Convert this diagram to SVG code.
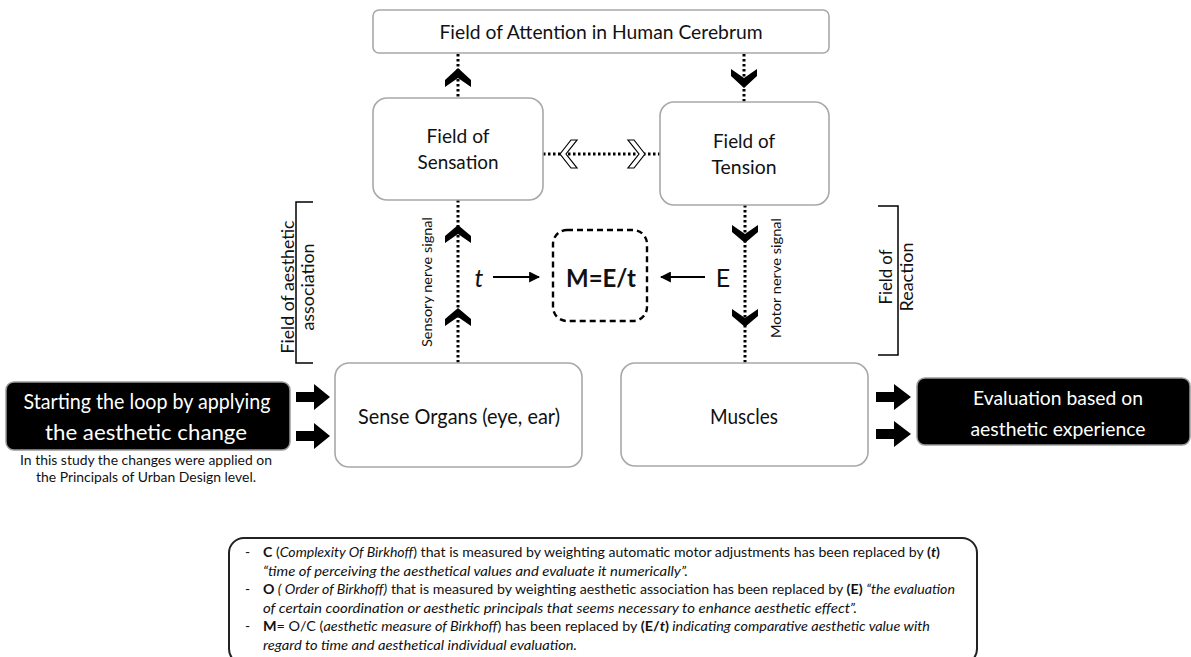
<svg xmlns="http://www.w3.org/2000/svg" width="1191" height="657" viewBox="0 0 1191 657">
<defs>
<style>
text{font-family:Lato,"Open Sans","Liberation Sans",sans-serif;fill:#111}
.box{fill:#fff;stroke:#a8a8a8;stroke-width:1.6}
.blk{fill:#000;stroke:#9a9a9a;stroke-width:1.5}
.wt{fill:#fff}
.dot{stroke:#000;stroke-width:3;stroke-dasharray:2.5 2.5;fill:none}
.chev{fill:#000}
.ochev{fill:#fff;stroke:#000;stroke-width:1.2}
.brk{fill:none;stroke:#000;stroke-width:1.5}
.arr{stroke:#000;stroke-width:2.2;fill:none}
.c{text-anchor:middle}
.n{font-size:13.8px}
.i{font-style:italic}
.b{font-weight:bold}
</style>
<marker id="ah" viewBox="0 0 10 10" refX="9" refY="5" markerWidth="5" markerHeight="5" orient="auto-start-reverse" markerUnits="strokeWidth">
<path d="M0,0 L10,5 L0,10 z" fill="#000"/>
</marker>
</defs>
<rect width="1191" height="657" fill="#fff"/>

<g id="connectors">
<line class="dot" x1="458" y1="54" x2="458" y2="98"/>
<line class="dot" x1="744" y1="54" x2="744" y2="102"/>
<line class="dot" x1="543" y1="154" x2="660" y2="154"/>
<line class="dot" x1="458" y1="200" x2="458" y2="363"/>
<line class="dot" x1="745" y1="205" x2="745" y2="363"/>
<polygon class="chev" points="458,68 471,80 471,87 458,78 445,87 445,80"/>
<polygon class="chev" points="744,88 757,76 757,69 744,78 731,69 731,76"/>
<polygon class="chev" points="458,225 471,236 471,243 458,234 445,243 445,236"/>
<polygon class="chev" points="458,308 471,319 471,326 458,317 445,326 445,319"/>
<polygon class="chev" points="745,243 758,232 758,225 745,234 732,225 732,232"/>
<polygon class="chev" points="745,327 758,316 758,309 745,318 732,309 732,316"/>
<polygon class="ochev" points="560,154 571,140 577,140 566,154 577,168 571,168"/>
<polygon class="ochev" points="645,154 634,140 628,140 639,154 628,168 634,168"/>
<line class="arr" x1="493" y1="277" x2="539" y2="277" marker-end="url(#ah)"/>
<line class="arr" x1="705" y1="277" x2="661" y2="277" marker-end="url(#ah)"/>
<polygon class="chev" points="296,392 314,392 314,384 330,397 314,410 314,402 296,402"/>
<polygon class="chev" points="296,431 314,431 314,423 330,436 314,449 314,441 296,441"/>
<polygon class="chev" points="876,392 894,392 894,384 911,397 894,410 894,402 876,402"/>
<polygon class="chev" points="876,429 894,429 894,421 911,434 894,447 894,439 876,439"/>
</g>

<g id="attention">
<rect class="box" x="373" y="10" width="456" height="43" rx="6"/>
<text class="c" x="601" y="39" font-size="19.5" textLength="323" lengthAdjust="spacingAndGlyphs">Field of Attention in Human Cerebrum</text>
</g>

<g id="sensation">
<rect class="box" x="373" y="98" width="170" height="102" rx="14"/>
<text class="c" x="458" y="143" font-size="19.5" textLength="63" lengthAdjust="spacingAndGlyphs">Field of</text>
<text class="c" x="458" y="169" font-size="19.5" textLength="81" lengthAdjust="spacingAndGlyphs">Sensation</text>
</g>

<g id="tension">
<rect class="box" x="660" y="102" width="169" height="103" rx="14"/>
<text class="c" x="744" y="148" font-size="19.5" textLength="62" lengthAdjust="spacingAndGlyphs">Field of</text>
<text class="c" x="744" y="174" font-size="19.5" textLength="65" lengthAdjust="spacingAndGlyphs">Tension</text>
</g>

<g id="measure">
<rect x="553" y="230" width="94" height="91" rx="14" fill="#fff" stroke="#000" stroke-width="2.4" stroke-dasharray="6 4"/>
<text class="c b" x="601" y="287" font-size="24" textLength="70" lengthAdjust="spacingAndGlyphs">M=E/t</text>
</g>

<g id="t-label"><text class="c i" x="479" y="287" font-size="25">t</text></g>
<g id="e-label"><text class="c" x="723" y="287" font-size="25">E</text></g>

<g id="sensory-label">
<text class="c" transform="translate(432,282) rotate(-90)" font-size="13.5" textLength="130" lengthAdjust="spacingAndGlyphs">Sensory nerve signal</text>
</g>
<g id="motor-label">
<text class="c" transform="translate(781,278) rotate(-90)" font-size="13.5" textLength="120" lengthAdjust="spacingAndGlyphs">Motor nerve signal</text>
</g>

<g id="association-bracket">
<path class="brk" d="M313,202 H296 V363 H313"/>
<text class="c" transform="translate(294,287) rotate(-90)" font-size="17.5" textLength="133" lengthAdjust="spacingAndGlyphs">Field of aesthetic</text>
<text class="c" transform="translate(314,287) rotate(-90)" font-size="17.5" textLength="87" lengthAdjust="spacingAndGlyphs">association</text>
</g>

<g id="reaction-bracket">
<path class="brk" d="M878,206 H898 V355 H878"/>
<text class="c" transform="translate(892,277) rotate(-90)" font-size="17.5" textLength="55" lengthAdjust="spacingAndGlyphs">Field of</text>
<text class="c" transform="translate(913,277) rotate(-90)" font-size="17.5" textLength="69" lengthAdjust="spacingAndGlyphs">Reaction</text>
</g>

<g id="sense-organs">
<rect class="box" x="335" y="363" width="247" height="104" rx="14"/>
<text class="c" x="459" y="424" font-size="20.5" textLength="202" lengthAdjust="spacingAndGlyphs">Sense Organs (eye, ear)</text>
</g>

<g id="muscles">
<rect class="box" x="621" y="363" width="247" height="103" rx="14"/>
<text class="c" x="744" y="424" font-size="20.5" textLength="68" lengthAdjust="spacingAndGlyphs">Muscles</text>
</g>

<g id="start">
<rect class="blk" x="6" y="382" width="284" height="68" rx="8"/>
<text class="c wt" x="147" y="409" font-size="21.5" textLength="247" lengthAdjust="spacingAndGlyphs">Starting the loop by applying</text>
<text class="c wt" x="146" y="440" font-size="21.5" textLength="202" lengthAdjust="spacingAndGlyphs">the aesthetic change</text>
<text class="c" x="146" y="465" font-size="13.8" textLength="252" lengthAdjust="spacingAndGlyphs">In this study the changes were applied on</text>
<text class="c" x="146" y="482" font-size="13.8" textLength="220" lengthAdjust="spacingAndGlyphs">the Principals of Urban Design level.</text>
</g>

<g id="evaluation">
<rect class="blk" x="917" y="378" width="273" height="67" rx="8"/>
<text class="c wt" x="1058" y="405" font-size="20" textLength="170" lengthAdjust="spacingAndGlyphs">Evaluation based on</text>
<text class="c wt" x="1058" y="436" font-size="20" textLength="175" lengthAdjust="spacingAndGlyphs">aesthetic experience</text>
</g>

<g id="note">
<rect x="229" y="538" width="748" height="126" rx="15" fill="#fff" stroke="#222" stroke-width="2"/>
<text class="n" x="245" y="557">-</text>
<text class="n" x="263" y="557" textLength="677" lengthAdjust="spacingAndGlyphs"><tspan class="b">C</tspan> (<tspan class="i">Complexity Of Birkhoff</tspan>) that is measured by weighting automatic motor adjustments has been replaced by <tspan class="b">(<tspan class="i">t</tspan>)</tspan></text>
<text class="n i" x="263" y="575.5" textLength="425" lengthAdjust="spacingAndGlyphs">“time of perceiving the aesthetical values and evaluate it numerically”.</text>
<text class="n" x="245" y="594">-</text>
<text class="n" x="263" y="594" textLength="692" lengthAdjust="spacingAndGlyphs"><tspan class="b">O</tspan><tspan class="i"> ( Order of Birkhoff)</tspan> that is measured by weighting aesthetic association has been replaced by <tspan class="b">(E)</tspan> <tspan class="i">“the evaluation</tspan></text>
<text class="n i" x="263" y="612.5" textLength="594" lengthAdjust="spacingAndGlyphs">of certain coordination or aesthetic principals that seems necessary to enhance aesthetic effect”.</text>
<text class="n" x="245" y="631">-</text>
<text class="n" x="263" y="631" textLength="667" lengthAdjust="spacingAndGlyphs"><tspan class="b">M</tspan>= O/C (<tspan class="i">aesthetic measure of Birkhoff</tspan>) has been replaced by <tspan class="b">(E/<tspan class="i">t</tspan>)</tspan><tspan class="i"> indicating comparative aesthetic value with</tspan></text>
<text class="n i" x="263" y="649.5" textLength="314" lengthAdjust="spacingAndGlyphs">regard to time and aesthetical individual evaluation.</text>
</g>
</svg>
